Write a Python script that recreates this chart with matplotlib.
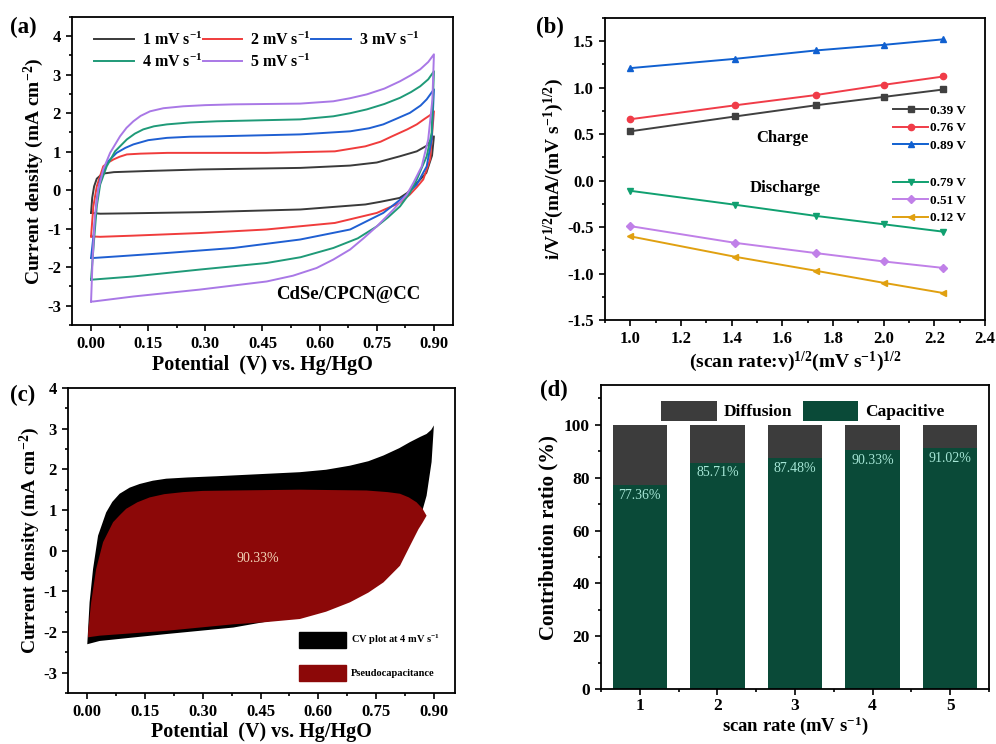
import matplotlib
matplotlib.use("Agg")
import matplotlib.pyplot as plt
import matplotlib.patches as mpatches
from matplotlib.ticker import MultipleLocator

plt.rcParams['font.family'] = ['Liberation Serif', 'DejaVu Serif']
plt.rcParams['font.weight'] = 'bold'
plt.rcParams['axes.labelweight'] = 'bold'
plt.rcParams['mathtext.default'] = 'regular'
plt.rcParams['axes.unicode_minus'] = False
plt.rcParams['axes.linewidth'] = 1.3

# (a) CV loops, potential (V) and current density (mA cm-2)
cv1_v = [0, 0.003, 0.008, 0.015, 0.03, 0.06, 0.15, 0.29, 0.55, 0.68, 0.75, 0.81, 0.855, 0.88, 0.9,
         0.895, 0.88, 0.864, 0.845, 0.83, 0.81, 0.76, 0.72, 0.55, 0.29, 0.1, 0.024, 0]
cv1_i = [-0.59, -0.2, 0.1, 0.3, 0.43, 0.47, 0.5, 0.54, 0.58, 0.64, 0.72, 0.88, 1.01, 1.15, 1.40,
         0.9, 0.45, 0.28, 0.08, -0.07, -0.2, -0.3, -0.37, -0.50, -0.57, -0.6, -0.61, -0.59]
cv2_v = [0, 0.006, 0.015, 0.032, 0.045, 0.059, 0.075, 0.094, 0.13, 0.2, 0.46, 0.64, 0.72, 0.76, 0.79,
         0.83, 0.855, 0.875, 0.89, 0.9,
         0.89, 0.872, 0.855, 0.837, 0.81, 0.75, 0.64, 0.46, 0.29, 0.11, 0.024, 0]
cv2_i = [-1.2, -0.42, 0.1, 0.62, 0.72, 0.8, 0.87, 0.93, 0.95, 0.97, 0.97, 1.01, 1.14, 1.26, 1.40,
         1.58, 1.71, 1.85, 1.95, 2.05,
         0.8, 0.28, 0.08, -0.11, -0.33, -0.59, -0.85, -1.02, -1.11, -1.18, -1.21, -1.2]
cv3_v = [0, 0.009, 0.015, 0.024, 0.041, 0.067, 0.09, 0.111, 0.15, 0.199, 0.26, 0.33, 0.549, 0.68, 0.73,
         0.767, 0.80, 0.837, 0.865, 0.881, 0.9,
         0.894, 0.881, 0.855, 0.829, 0.767, 0.68, 0.549, 0.374, 0.199, 0.067, 0.006, 0]
cv3_i = [-1.76, -0.94, -0.24, 0.28, 0.71, 0.97, 1.10, 1.19, 1.30, 1.36, 1.39, 1.40, 1.45, 1.53, 1.61,
         1.71, 1.85, 2.01, 2.20, 2.36, 2.62,
         1.32, 0.62, 0.15, -0.11, -0.59, -1.02, -1.28, -1.50, -1.63, -1.72, -1.76, -1.76]
cv4_v = [0, 0.008, 0.015, 0.024, 0.041, 0.063, 0.08, 0.094, 0.115, 0.137, 0.165, 0.199, 0.26, 0.33, 0.549,
         0.636, 0.68, 0.724, 0.77, 0.811, 0.84, 0.864, 0.885, 0.9,
         0.894, 0.881, 0.855, 0.837, 0.811, 0.78, 0.75, 0.70, 0.636, 0.55, 0.461, 0.286, 0.111, 0.006, 0]
cv4_i = [-2.32, -1.28, -0.42, 0.15, 0.62, 1.01, 1.18, 1.32, 1.47, 1.58, 1.66, 1.71, 1.76, 1.79, 1.84,
         1.92, 2.00, 2.10, 2.24, 2.40, 2.55, 2.70, 2.88, 3.09,
         1.49, 0.88, 0.28, -0.07, -0.42, -0.70, -0.94, -1.25, -1.50, -1.74, -1.89, -2.06, -2.24, -2.32, -2.32]
cv5_v = [0, 0.004, 0.010, 0.019, 0.032, 0.050, 0.076, 0.093, 0.111, 0.13, 0.155, 0.19, 0.242, 0.30, 0.374,
         0.549, 0.636, 0.68, 0.724, 0.77, 0.811, 0.84, 0.864, 0.885, 0.9,
         0.896, 0.885, 0.868, 0.846, 0.829, 0.794, 0.75, 0.715, 0.68, 0.636, 0.592, 0.53, 0.461, 0.286,
         0.111, 0.006, 0]
cv5_i = [-2.89, -1.80, -0.68, 0.02, 0.54, 0.97, 1.40, 1.62, 1.79, 1.93, 2.05, 2.13, 2.18, 2.21, 2.23,
         2.25, 2.31, 2.39, 2.49, 2.64, 2.83, 2.99, 3.14, 3.33, 3.53,
         2.36, 1.32, 0.62, 0.19, -0.11, -0.50, -0.94, -1.25, -1.54, -1.80, -2.02, -2.22, -2.37, -2.58,
         -2.76, -2.89, -2.89]
rate_labels = [r'1 mV s$^{-1}$', r'2 mV s$^{-1}$', r'3 mV s$^{-1}$', r'4 mV s$^{-1}$', r'5 mV s$^{-1}$']
cv_colors = ['#3a3a3a', '#f03c3c', '#1f5fd2', '#1f9a78', '#a978e6']

# (b) i/v^1/2 vs v^1/2 at fixed potentials
sqrt_rate = [1.0, 1.414, 1.732, 2.0, 2.236]
charge_labels = ['0.39 V', '0.76 V', '0.89 V']
charge_vals = [[0.53, 0.69, 0.81, 0.90, 0.98],
               [0.66, 0.81, 0.92, 1.03, 1.12],
               [1.21, 1.31, 1.40, 1.46, 1.52]]
discharge_labels = ['0.79 V', '0.51 V', '0.12 V']
discharge_vals = [[-0.11, -0.26, -0.38, -0.47, -0.55],
                  [-0.49, -0.67, -0.78, -0.87, -0.94],
                  [-0.60, -0.82, -0.97, -1.10, -1.21]]

# (c) total CV at 4 mV/s and its capacitive part
total_v = [0, 0.006, 0.015, 0.028, 0.049, 0.065, 0.084, 0.11, 0.136, 0.17, 0.205, 0.26, 0.335, 0.552, 0.62,
           0.682, 0.73, 0.769, 0.81, 0.838, 0.865, 0.881, 0.893, 0.9,
           0.894, 0.881, 0.864, 0.838, 0.812, 0.769, 0.682, 0.552, 0.379, 0.205, 0.032, 0]
total_i = [-2.30, -1.27, -0.45, 0.37, 0.94, 1.20, 1.40, 1.55, 1.64, 1.72, 1.77, 1.80, 1.83, 1.93, 1.99,
           2.09, 2.20, 2.34, 2.52, 2.67, 2.80, 2.87, 2.97, 3.08,
           2.18, 1.35, 0.78, 0.21, -0.29, -0.70, -1.19, -1.60, -1.89, -2.05, -2.22, -2.30]
pseudo_v = [0.002, 0.010, 0.023, 0.041, 0.067, 0.085, 0.101, 0.13, 0.162, 0.2, 0.249, 0.3, 0.379, 0.552,
            0.725, 0.78, 0.812, 0.835, 0.855, 0.87, 0.881,
            0.87, 0.86, 0.838, 0.812, 0.79, 0.769, 0.73, 0.682, 0.62, 0.552, 0.46, 0.379, 0.205, 0.032, 0.002]
pseudo_i = [-2.01, -1.27, -0.45, 0.21, 0.70, 0.88, 1.03, 1.19, 1.31, 1.39, 1.44, 1.47, 1.48, 1.50,
            1.48, 1.44, 1.40, 1.31, 1.19, 1.04, 0.86,
            0.68, 0.53, 0.12, -0.37, -0.58, -0.78, -1.03, -1.27, -1.50, -1.68, -1.76, -1.81, -1.97, -2.09, -2.13]
pseudo_ratio = '90.33%'

# (d) capacitive / diffusion share
rates = [1, 2, 3, 4, 5]
capacitive = [77.36, 85.71, 87.48, 90.33, 91.02]
diffusion = [100 - c for c in capacitive]


def style_ticks(ax, size=12):
    ax.tick_params(which='both', direction='out', top=False, right=False, width=1.2)
    ax.tick_params(which='major', length=4.5, labelsize=size)
    ax.tick_params(which='minor', length=2.5)


fig = plt.figure(figsize=(9.96, 7.44), dpi=100)

# ---- (a)
ax = fig.add_axes([0.0723, 0.5632, 0.3825, 0.414])
loops = [(cv1_v, cv1_i), (cv2_v, cv2_i), (cv3_v, cv3_i), (cv4_v, cv4_i), (cv5_v, cv5_i)]
lines = []
for (v, i), lab, c in zip(loops, rate_labels, cv_colors):
    ln, = ax.plot(v, i, color=c, lw=1.4, label=lab)
    lines.append(ln)
order = [0, 3, 1, 4, 2]
ax.legend([lines[k] for k in order], [rate_labels[k] for k in order], ncol=3, loc='upper left',
          bbox_to_anchor=(0.02, 1.0), frameon=False, fontsize=11.5, handlelength=2.5,
          columnspacing=0.0, handletextpad=0.5, labelspacing=0.3)
ax.text(0.675, -2.71, 'CdSe/CPCN@CC', fontsize=13.5, ha='center', va='center')
ax.set_xlim(-0.05, 0.95)
ax.set_ylim(-3.5, 4.5)
ax.xaxis.set_minor_locator(MultipleLocator(0.075))
ax.yaxis.set_major_locator(MultipleLocator(1))
ax.yaxis.set_minor_locator(MultipleLocator(0.5))
ax.set_xticks([0, 0.15, 0.30, 0.45, 0.60, 0.75, 0.90])
ax.set_xticklabels(['0.00', '0.15', '0.30', '0.45', '0.60', '0.75', '0.90'])
style_ticks(ax)
ax.set_xlabel('Potential  (V) vs. Hg/HgO', fontsize=14.5, labelpad=2)
ax.set_ylabel(r'Current density (mA cm$^{-2}$)', fontsize=14, labelpad=1)
fig.text(0.010, 0.963, '(a)', fontsize=16.5, va='center')

# ---- (b)
ax = fig.add_axes([0.6074, 0.5699, 0.3815, 0.406])
ch_colors = ['#404040', '#f03c48', '#1060d0']
ch_markers = ['s', 'o', '^']
dis_colors = ['#10a070', '#c080e8', '#e0a010']
dis_markers = ['v', 'D', '<']
h1 = []
for vals, lab, c, m in zip(charge_vals, charge_labels, ch_colors, ch_markers):
    ln, = ax.plot(sqrt_rate, vals, color=c, marker=m, ms=4.5, lw=1.4, label=lab)
    h1.append(ln)
h2 = []
for vals, lab, c, m in zip(discharge_vals, discharge_labels, dis_colors, dis_markers):
    ln, = ax.plot(sqrt_rate, vals, color=c, marker=m, ms=4.5, lw=1.4, label=lab)
    h2.append(ln)
leg1 = ax.legend(handles=h1, loc='upper left', bbox_to_anchor=(0.74, 0.735), frameon=False,
                 fontsize=9.5, handlelength=2.7, handletextpad=0.1, labelspacing=0.4, borderpad=0)
ax.add_artist(leg1)
ax.legend(handles=h2, loc='upper left', bbox_to_anchor=(0.74, 0.495), frameon=False,
          fontsize=9.5, handlelength=2.7, handletextpad=0.1, labelspacing=0.4, borderpad=0)
ax.text(1.60, 0.46, 'Charge', fontsize=12, ha='center', va='center')
ax.text(1.61, -0.08, 'Discharge', fontsize=12, ha='center', va='center')
ax.set_xlim(0.9, 2.4)
ax.set_ylim(-1.5, 1.75)
ax.xaxis.set_major_locator(MultipleLocator(0.2))
ax.xaxis.set_minor_locator(MultipleLocator(0.1))
ax.yaxis.set_major_locator(MultipleLocator(0.5))
ax.yaxis.set_minor_locator(MultipleLocator(0.25))
style_ticks(ax)
ax.set_xlabel(r'(scan rate:v)$^{1/2}$(mV s$^{-1}$)$^{1/2}$', fontsize=14, labelpad=2)
ax.set_ylabel(r'i/V$^{1/2}$(mA/(mV s$^{-1}$)$^{1/2}$)', fontsize=14, labelpad=1)
fig.text(0.538, 0.963, '(b)', fontsize=16.5, va='center')

# ---- (c)
ax = fig.add_axes([0.0683, 0.0685, 0.3886, 0.41])
ax.fill(total_v, total_i, color='#000000', lw=0)
ax.fill(pseudo_v, pseudo_i, color='#8c0808', lw=0)
ax.text(0.444, -0.2, pseudo_ratio, fontsize=10, fontweight='normal', color='#f3d6b8',
        ha='center', va='center')
ph = [mpatches.Patch(color='#000000', label=r'CV plot at 4 mV s$^{-1}$'),
      mpatches.Patch(color='#8c0808', label='Pseudocapacitance')]
ax.legend(handles=ph, loc='lower right', bbox_to_anchor=(0.985, 0.01), frameon=False, fontsize=7.5,
          handlelength=4.5, handleheight=2.0, handletextpad=0.5, labelspacing=1.6)
ax.set_xlim(-0.05, 0.955)
ax.set_ylim(-3.5, 4)
ax.xaxis.set_minor_locator(MultipleLocator(0.075))
ax.yaxis.set_major_locator(MultipleLocator(1))
ax.yaxis.set_minor_locator(MultipleLocator(0.5))
ax.set_xticks([0, 0.15, 0.30, 0.45, 0.60, 0.75, 0.90])
ax.set_xticklabels(['0.00', '0.15', '0.30', '0.45', '0.60', '0.75', '0.90'])
style_ticks(ax)
ax.set_xlabel('Potential  (V) vs. Hg/HgO', fontsize=14.5, labelpad=1)
ax.set_ylabel(r'Current density (mA cm$^{-2}$)', fontsize=14, labelpad=1)
fig.text(0.010, 0.468, '(c)', fontsize=16.5, va='center')

# ---- (d)
ax = fig.add_axes([0.6034, 0.0735, 0.3896, 0.409])
b1 = ax.bar(rates, capacitive, width=0.7, color='#0a4a38', label='Capacitive')
b2 = ax.bar(rates, diffusion, width=0.7, bottom=capacitive, color='#3c3c3c', label='Diffusion')
for x, c in zip(rates, capacitive):
    ax.text(x, c - 1.5, f'{c:.2f}%', fontsize=10, fontweight='normal', color='#a6e6d6',
            ha='center', va='top')
ax.legend(handles=[b2, b1], loc='upper center', bbox_to_anchor=(0.52, 1.0), ncol=2, frameon=False,
          fontsize=12.5, handlelength=3.2, handleheight=1.4, columnspacing=0.6, handletextpad=0.4)
ax.set_xlim(0.5, 5.5)
ax.set_ylim(0, 115)
ax.set_xticks(rates)
ax.xaxis.set_minor_locator(MultipleLocator(0.5))
ax.yaxis.set_minor_locator(MultipleLocator(10))
ax.set_yticks([0, 20, 40, 60, 80, 100])
style_ticks(ax, 12.5)
ax.tick_params(axis='x', which='major', pad=2)
ax.set_xlabel(r'scan rate (mV s$^{-1}$)', fontsize=13.5, labelpad=0)
ax.set_ylabel('Contribution ratio (%)', fontsize=15, labelpad=4)
fig.text(0.542, 0.475, '(d)', fontsize=16.5, va='center')

fig.savefig('out.png', dpi=100)
